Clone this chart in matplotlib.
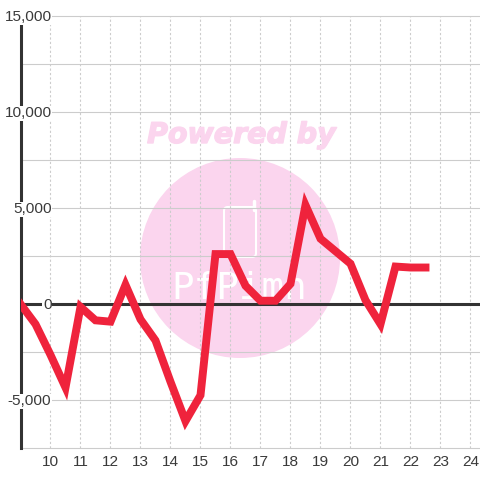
import matplotlib
matplotlib.use('Agg')
import matplotlib.pyplot as plt
import matplotlib.patheffects as pe
from matplotlib.patches import Circle, FancyBboxPatch

hours = [9, 9.5, 10, 10.5, 11, 11.5, 12, 12.5, 13, 13.5, 14, 14.5, 15, 15.5, 16, 16.5,
         17, 17.5, 18, 18.5, 19, 19.5, 20, 20.5, 21, 21.5, 22, 22.5]
values = [0, -1050, -2650, -4350, -150, -850, -920, 1000, -800, -1900, -4050, -6100,
          -4750, 2600, 2600, 950, 170, 170, 1050, 5150, 3400, 2750, 2100, 200, -1050,
          1950, 1900, 1900]
x_ticks = list(range(10, 25))
y_ticks = [-5000, 0, 5000, 10000, 15000]
y_grid = [-7500, -5000, -2500, 2500, 5000, 7500, 10000, 12500, 15000]

LABEL = '#3a3a3a'
GRID = '#cccccc'
PINK = '#fbd5ee'

plt.rcParams['font.family'] = ['Liberation Sans', 'DejaVu Sans']

fig = plt.figure(figsize=(4.8, 4.8), dpi=100)
ax = fig.add_axes([20.5 / 480, 32 / 480, 459.5 / 480, 432 / 480])
ax.set_xlim(9, 24.317)
ax.set_ylim(-7500, 15000)

for s in ['top', 'right', 'bottom']:
    ax.spines[s].set_visible(False)
ax.spines['left'].set_linewidth(2.2)
ax.spines['left'].set_color('#333333')
ax.spines['left'].set_zorder(3)

# watermark sits under the grid
ax.add_patch(Circle((240 / 480, 1 - 258 / 480), 100 / 480, transform=fig.transFigure,
                    facecolor=PINK, edgecolor='none', zorder=0.5, clip_on=False))
ax.add_patch(FancyBboxPatch((224 / 480, 1 - 257 / 480), 32 / 480, 50 / 480,
                            boxstyle='round,pad=0,rounding_size=0.008',
                            transform=fig.transFigure, facecolor='none',
                            edgecolor='white', linewidth=1.5, zorder=0.7))
ax.plot([254.5 / 480, 254.5 / 480], [1 - 210 / 480, 1 - 201 / 480], color='white', lw=2.5,
        transform=fig.transFigure, zorder=0.7, solid_capstyle='round')
title = fig.text(241.5 / 480, 1 - 135 / 480, 'Powered by', color=PINK, fontsize=20.5, family='DejaVu Sans',
                 fontweight='bold', fontstyle='italic', ha='center', va='center', zorder=0)
title.set_path_effects([pe.withStroke(linewidth=1.0, foreground=PINK)])
ax.text(239 / 480, 1 - 289 / 480, 'PfPimn', transform=fig.transFigure, color='white',
        fontsize=27, family='DejaVu Sans Mono', ha='center', va='center', zorder=0.7)

ax.patch.set_alpha(0)
for y in y_grid:
    ax.axhline(y, color=GRID, lw=0.8, zorder=1, clip_on=False)
for x in x_ticks:
    ax.axvline(x, color=GRID, lw=0.8, dashes=(2, 2), zorder=1)
ax.axhline(0, color='#333333', lw=2.2, zorder=2)

ax.plot(hours, values, color='#ef233c', lw=5.7, solid_joinstyle='miter',
        solid_capstyle='projecting', zorder=3.5)

ax.set_xticks(x_ticks)
ax.set_xticklabels([str(x) for x in x_ticks], fontsize=11.1, color=LABEL)
ax.tick_params(axis='x', length=0, pad=5)
ax.set_yticks([])

for y in y_ticks:
    ax.text((51.5 - 20.5) / 459.5, y - 60, f'{y:,}', transform=ax.get_yaxis_transform(), fontsize=11.1,
            color=LABEL, ha='right', va='center', zorder=4, clip_on=False,
            bbox=dict(facecolor='white', edgecolor='none', pad=0.4))

fig.savefig('out.png', dpi=100)
